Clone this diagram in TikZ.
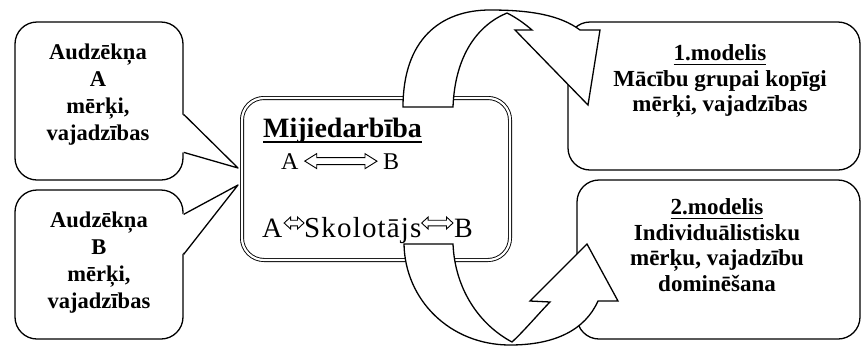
\documentclass[tikz,border=0pt]{standalone}
\usepackage{fontspec}
\setmainfont{Liberation Serif}
\usetikzlibrary{calc}
\newcommand\myul[1]{\setbox0\hbox{#1}\rlap{\rule[-0.2em]{\wd0}{0.07em}}\box0}
% hollow double arrow between two tip coordinates: #1 left tip, #2 right tip,
% #3 half head height, #4 half shaft height, #5 head length
\newcommand\hollowdbl[5]{%
  \draw[harr] (#1) -- ($(#1)+(#5,-#3)$) -- ($(#1)+(#5,-#4)$) -- ($(#2)+(-#5,-#4)$)
    -- ($(#2)+(-#5,-#3)$) -- (#2) -- ($(#2)+(-#5,#3)$) -- ($(#2)+(-#5,#4)$)
    -- ($(#1)+(#5,#4)$) -- ($(#1)+(#5,#3)$) -- cycle;}
\begin{document}
\begin{tikzpicture}[x=1pt,y=-1pt,line join=round,
  box/.style={draw,line width=1.3pt,rounded corners=22pt,fill=white,inner sep=0pt},
  midbox/.style={draw,double,double distance=2.2pt,line width=0.9pt,rounded corners=22pt,fill=white,inner sep=0pt},
  pointer/.style={line width=1.3pt},
  arr/.style={draw,line width=1.3pt,fill=white,line join=miter},
  harr/.style={draw,line width=0.9pt,line join=miter},
  txt/.style={inner sep=0pt,align=center,font=\bfseries\fontsize{22.5}{27}\selectfont},
  txtr/.style={inner sep=0pt,align=center,font=\bfseries\fontsize{23}{25.5}\selectfont},
  plain/.style={inner sep=0pt,anchor=base west}
]
\useasboundingbox (0,0) rectangle (862,346);
% left callouts
\node[box,minimum width=168pt,minimum height=158pt] (boxA) at (99,101) {};
\node[box,minimum width=168pt,minimum height=149pt] (boxB) at (99,264.5) {};
\coordinate (tipA) at (238,168);
\coordinate (tipB) at (238,185);
\coordinate (a1) at ($(boxA.north east)+(0,93)$);
\coordinate (a2) at ($(boxA.north east)+(0,131)$);
\coordinate (b1) at ($(boxB.north east)+(0,25)$);
\coordinate (b2) at ($(boxB.north east)+(0,65)$);
\fill[white] ($(a1)+(-1.6,0)$) -- (tipA) -- ($(a2)+(-1.6,0)$) -- cycle;
\draw[pointer] (a1) -- (tipA) -- (a2);
\fill[white] ($(b1)+(-1.6,0)$) -- (tipB) -- ($(b2)+(-1.6,0)$) -- cycle;
\draw[pointer] (b1) -- (tipB) -- (b2);
% right boxes
\node[box,minimum width=292pt,minimum height=148pt] (box1) at (714,96) {};
\node[box,minimum width=283pt,minimum height=159pt] (box2) at (718.5,259.5) {};
% middle box
\node[midbox,minimum width=268pt,minimum height=162pt] (mid) at (376,179) {};
% texts
\node[txt] (tA) at (98,95) {Audzēkņa\\A\\mērķi,\\vajadzības};
\node[txt] (tB) at (99,263) {Audzēkņa\\B\\mērķi,\\vajadzības};
\node[txtr] (t1) at (720,81) {\myul{1.modelis}\\Mācību grupai kopīgi\\mērķi, vajadzības};
\node[txtr] (t2) at (717,245) {\myul{2.modelis}\\Individuālistisku\\mērķu, vajadzību\\dominēšana};
\node[plain,font=\bfseries\fontsize{28}{32}\selectfont] (title) at (263,137) {\myul{Mijiedarbība}};
% A <=> B
\node[plain,font=\fontsize{24}{28}\selectfont] (nA) at (281,169) {A};
\node[plain,font=\fontsize{24}{28}\selectfont] (nB) at (383,169) {B};
\coordinate (ab1) at ($(nA.east)+(6,0)$);
\coordinate (ab2) at ($(nB.west)+(-6,0)$);
\hollowdbl{ab1}{ab2}{7.5}{3.5}{12}
% A <=> Skolotajs <=> B
\node[plain,font=\fontsize{28}{32}\selectfont] (sA) at (262,237) {A};
\node[plain,font=\fontsize{29}{32}\selectfont\addfontfeature{LetterSpace=4}] (sS) at (304,237) {Skolotājs};
\node[plain,font=\fontsize{28}{32}\selectfont] (sB) at (454,237) {B};
\coordinate (ly) at (0,223);
\coordinate (s1) at ($(sA.east |- ly)+(1.5,0)$);
\coordinate (s2) at ($(sS.west |- ly)+(0,0)$);
\coordinate (s3) at ($(sS.east |- ly)+(0,0)$);
\coordinate (s4) at ($(sB.west |- ly)+(-1,0)$);
\hollowdbl{s1}{s2}{6}{2.8}{6.5}
\hollowdbl{s3}{s4}{6}{2.8}{6.5}
% curved arrows
\draw[arr] (403,107) -- (453,107) .. controls (455,55) and (478,25) .. (507,13)
  .. controls (517,18) and (525,24) .. (532,30) -- (515,30) -- (588,105) -- (600,30) -- (580,30)
  .. controls (560,15) and (530,10) .. (490,10) .. controls (440,10) and (403,40) .. (403,107) -- cycle;
\draw[arr] (404,244) -- (453,244) .. controls (455,290) and (480,325) .. (512,342)
  .. controls (525,330) and (540,312) .. (550,302) -- (530,301) -- (587,244) -- (618,301) -- (598,301)
  .. controls (585,330) and (555,345) .. (510,345) .. controls (450,345) and (405,300) .. (404,244) -- cycle;
\end{tikzpicture}
\end{document}
